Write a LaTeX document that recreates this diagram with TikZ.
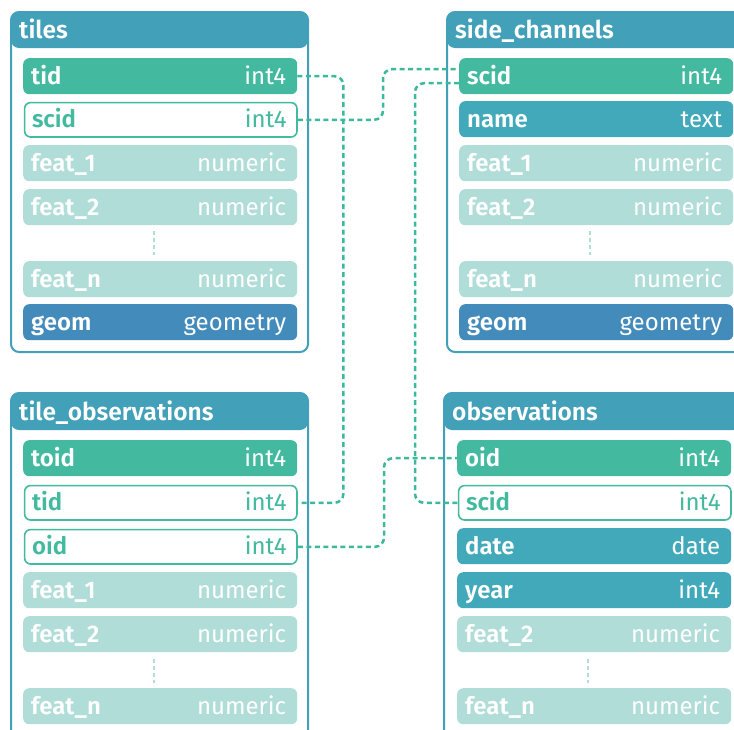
\documentclass[tikz,border=0pt]{standalone}
\usepackage{fontspec}
\setmainfont{Fira Sans}[BoldFont={* SemiBold}]
\newcommand\namefont{\bfseries}
\definecolor{hdrc}{HTML}{42A0B9}
\definecolor{pkc}{HTML}{43BA9F}
\definecolor{featc}{HTML}{B0DDD8}
\definecolor{geoc}{HTML}{438BBA}
\definecolor{attrc}{HTML}{41A9B9}
\definecolor{linkc}{HTML}{3CB99C}
\tikzset{
  rowbox/.style={rectangle, rounded corners=6pt, minimum width=274pt, minimum height=36pt, inner sep=0pt},
  pkrow/.style={fill=pkc},
  fkrow/.style={fill=white, draw=pkc, line width=1.6pt, minimum width=272.4pt, minimum height=34.4pt},
  featrow/.style={fill=featc},
  georow/.style={fill=geoc},
  attrrow/.style={fill=attrc},
  frame/.style={draw=hdrc, line width=2pt, rounded corners=8pt},
  header/.style={fill=hdrc, rounded corners=8pt},
  title/.style={anchor=base west, text=white, font=\namefont\fontsize{24.5}{24.5}\selectfont, inner sep=0pt},
  gap/.style={draw=featc, line width=2pt, dash pattern=on 4pt off 3pt},
  link/.style={draw=linkc, line width=2.5pt, dash pattern=on 5pt off 3.5pt, rounded corners=9pt},
}
% one column of a table: box, column name on the left, type on the right
\newcommand\dbrow[7]{%
  \node[rowbox,#4,anchor=north west] (#1) at (#2,#3) {};
  \node[anchor=base west, inner sep=0pt, text=#5, font=\namefont\fontsize{24}{24}\selectfont]
    at ([xshift=8pt,yshift=-8pt]#1.west) {#6};
  \node[anchor=base east, inner sep=0pt, text=#5, font=\fontsize{24}{24}\selectfont]
    at ([xshift=-11pt,yshift=-8pt]#1.east) {#7};
}
\begin{document}
\begin{tikzpicture}[x=1pt,y=-1pt]
\clip (0,0) rectangle (734,729);
\fill[white] (0,0) rectangle (734,729);

% ---- tiles ----
\fill[header] (11,12) rectangle (308,48);
\draw[frame] (11,12) rectangle (308,352);
\node[title] (tiles) at (19,38) {tiles};
\dbrow{t-tid}{23}{58}{pkrow}{white}{tid}{int4}
\dbrow{t-scid}{23.8}{101.8}{fkrow}{pkc}{scid}{int4}
\dbrow{t-f1}{23}{145}{featrow}{white}{feat\_1}{numeric}
\dbrow{t-f2}{23}{189}{featrow}{white}{feat\_2}{numeric}
\draw[gap] (154,231) -- (154,255);
\dbrow{t-fn}{23}{261}{featrow}{white}{feat\_n}{numeric}
\dbrow{t-geom}{23}{304}{georow}{white}{geom}{geometry}

% ---- side_channels ----
\fill[header] (447,12) rectangle (744,48);
\draw[frame] (447,12) rectangle (744,352);
\node[title] (sidech) at (455,38) {side\_channels};
\dbrow{sc-scid}{459}{58}{pkrow}{white}{scid}{int4}
\dbrow{sc-name}{459}{101}{attrrow}{white}{name}{text}
\dbrow{sc-f1}{459}{145}{featrow}{white}{feat\_1}{numeric}
\dbrow{sc-f2}{459}{189}{featrow}{white}{feat\_2}{numeric}
\draw[gap] (590,231) -- (590,255);
\dbrow{sc-fn}{459}{261}{featrow}{white}{feat\_n}{numeric}
\dbrow{sc-geom}{459}{304}{georow}{white}{geom}{geometry}

% ---- tile_observations ----
\fill[header] (11,393) rectangle (308,430);
\draw[frame] (11,393) rectangle (308,760);
\node[title] (tileobs) at (19,420) {tile\_observations};
\dbrow{to-toid}{23}{440}{pkrow}{white}{toid}{int4}
\dbrow{to-tid}{23.8}{484.8}{fkrow}{pkc}{tid}{int4}
\dbrow{to-oid}{23.8}{528.8}{fkrow}{pkc}{oid}{int4}
\dbrow{to-f1}{23}{572}{featrow}{white}{feat\_1}{numeric}
\dbrow{to-f2}{23}{616}{featrow}{white}{feat\_2}{numeric}
\draw[gap] (154,659) -- (154,683);
\dbrow{to-fn}{23}{688}{featrow}{white}{feat\_n}{numeric}

% ---- observations ----
\fill[header] (444,393) rectangle (741,430);
\draw[frame] (444,393) rectangle (741,760);
\node[title] (obs) at (452,420) {observations};
\dbrow{o-oid}{457}{440}{pkrow}{white}{oid}{int4}
\dbrow{o-scid}{457.8}{484.8}{fkrow}{pkc}{scid}{int4}
\dbrow{o-date}{457}{528}{attrrow}{white}{date}{date}
\dbrow{o-year}{457}{572}{attrrow}{white}{year}{int4}
\dbrow{o-f2}{457}{616}{featrow}{white}{feat\_2}{numeric}
\draw[gap] (588,659) -- (588,683);
\dbrow{o-fn}{457}{688}{featrow}{white}{feat\_n}{numeric}

% ---- relations ----
\draw[link] (t-tid.east) -- ([xshift=46pt]t-tid.east) |- (to-tid.east);
\draw[link] (t-scid.east) -| ([xshift=-76pt,yshift=7pt]sc-scid.west) -- ([yshift=7pt]sc-scid.west);
\draw[link] ([yshift=-7pt]sc-scid.west) -- ([xshift=-44pt,yshift=-7pt]sc-scid.west) |- (o-scid.west);
\draw[link] (to-oid.east) -| ([xshift=-73pt]o-oid.west) -- (o-oid.west);
\end{tikzpicture}
\end{document}
